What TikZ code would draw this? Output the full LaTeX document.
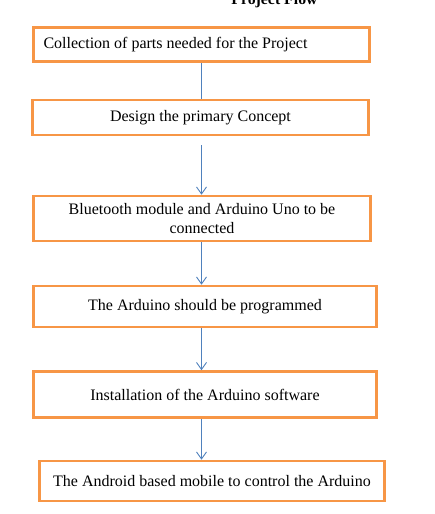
\documentclass[tikz,border=0pt]{standalone}
\usepackage{fontspec}
\setmainfont{Liberation Serif}
\usetikzlibrary{arrows.meta}
\definecolor{boxorange}{RGB}{247,150,70}
\definecolor{flowblue}{RGB}{79,129,189}
\begin{document}
\begin{tikzpicture}[x=1pt, y=-1pt, >={Straight Barb[length=7pt, width=10pt]},
        step box/.style={draw=boxorange, line width=2.6pt, rectangle, inner sep=0pt, font=\fontsize{16}{19.5}\selectfont},
        flow/.style={draw=flowblue, line width=0.9pt}]
        \useasboundingbox (0,0) rectangle (434,514);
        % Nodes
        \node[font=\fontsize{15.8}{18}\selectfont\bfseries, anchor=base] (title) at (274.5,4.5) {Project Flow};
        \node[step box, minimum width=336pt, minimum height=34pt] (b1) at (201.5,44.5) {};
        \node[anchor=west, font=\fontsize{16}{18.5}\selectfont] (t1) at (40,45) {Collection of parts needed for the Project};
        \node[step box, minimum width=336pt, minimum height=35pt] (b2) at (200.5,117.5) {Design the primary Concept};
        \node[step box, minimum width=337pt, minimum height=45pt, align=center] (b3) at (202,218.5) {Bluetooth module and Arduino Uno to be\\connected};
        \node[step box, minimum width=343pt, minimum height=41pt] (b4) at (205,306.5) {The Arduino should be programmed};
        \node[step box, minimum width=343pt, minimum height=46pt] (b5) at (205,394.5) {Installation of the Arduino software};
        \node[step box, minimum width=345pt, minimum height=40pt] (b6) at (212,481) {The Android based mobile to control the Arduino};

        % Edges
        \draw[flow] (b1.south -| b1.south) -- (b2.north -| b1.south);
        \draw[flow, ->, shorten <=9pt] (b2.south -| b1.south) -- (b3.north -| b1.south);
        \draw[flow, ->] (b3.south -| b1.south) -- (b4.north -| b1.south);
        \draw[flow, ->] (b4.south -| b1.south) -- (b5.north -| b1.south);
        \draw[flow, ->] (b5.south -| b1.south) -- (b6.north -| b1.south);
    \end{tikzpicture}
\end{document}
